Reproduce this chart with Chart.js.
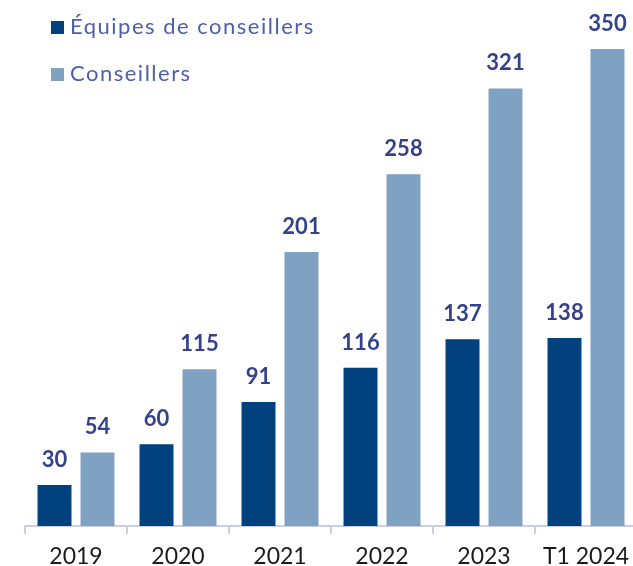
<!DOCTYPE html>
<html>
<head>
<meta charset="utf-8">
<script src="https://cdn.jsdelivr.net/npm/chart.js@4/dist/chart.umd.min.js"></script>
<style>
  html, body { margin: 0; padding: 0; background: #ffffff; overflow: hidden; width: 633px; height: 566px; }
  #wrap { position: absolute; left: 0; top: 0; width: 640px; height: 566px; }
  .leg { position: absolute; left: 51px; font-family: Lato, "Open Sans", sans-serif; font-size: 22px; line-height: 26px; color: #4d5eab; white-space: nowrap; }
  .leg .txt { letter-spacing: 1.5px; }
  .leg .sw { display: inline-block; width: 13px; height: 13px; margin-right: 6px; vertical-align: baseline; }
</style>
</head>
<body>
<div id="wrap"><canvas id="c"></canvas></div>
<div class="leg" id="leg1" style="top:13px"><span class="sw" style="background:#00417e"></span><span class="txt" id="l1"></span></div>
<div class="leg" id="leg2" style="top:60px"><span class="sw" style="background:#7fa2c2"></span><span class="txt" id="l2"></span></div>
<script>
const categories = ["2019", "2020", "2021", "2022", "2023", "T1 2024"];
const seriesNames = ["Équipes de conseillers", "Conseillers"];
const equipes = [30, 60, 91, 116, 137, 138];
const conseillers = [54, 115, 201, 258, 321, 350];

document.getElementById('l1').textContent = seriesNames[0];
document.getElementById('l2').textContent = seriesNames[1];

const valueLabels = {
  id: 'valueLabels',
  afterDatasetsDraw(chart) {
    const ctx = chart.ctx;
    ctx.save();
    ctx.font = 'bold 22px Lato, "Open Sans", sans-serif';
    ctx.fillStyle = '#33428a';
    ctx.textAlign = 'center';
    ctx.textBaseline = 'alphabetic';
    chart.data.datasets.forEach((ds, i) => {
      const meta = chart.getDatasetMeta(i);
      meta.data.forEach((el, j) => {
        ctx.fillText(String(ds.data[j]), el.x, el.y - 18);
      });
    });
    ctx.restore();
  }
};

new Chart(document.getElementById('c'), {
  type: 'bar',
  data: {
    labels: categories,
    datasets: [
      { label: seriesNames[0], data: equipes, backgroundColor: '#00417e', categoryPercentage: 0.843, barPercentage: 0.79 },
      { label: seriesNames[1], data: conseillers, backgroundColor: '#7fa2c2', categoryPercentage: 0.843, barPercentage: 0.79 }
    ]
  },
  options: {
    responsive: true,
    maintainAspectRatio: false,
    animation: false,
    layout: { padding: { left: 25, right: 3, top: 8, bottom: 0 } },
    plugins: { legend: { display: false }, tooltip: { enabled: false } },
    scales: {
      y: { display: false, min: 0, max: 380 },
      x: {
        afterFit(scale) { scale.height = 40; },
        grid: { display: true, drawOnChartArea: false, drawTicks: true, tickLength: 8, color: '#c9cfe8', lineWidth: 2 },
        border: { display: true, color: '#c9cfe8', width: 2 },
        ticks: { color: '#1a1a1a', font: { family: 'Lato, "Open Sans", sans-serif', size: 23 }, padding: 9, maxRotation: 0, autoSkip: false }
      }
    }
  },
  plugins: [valueLabels]
});
</script>
</body>
</html>
